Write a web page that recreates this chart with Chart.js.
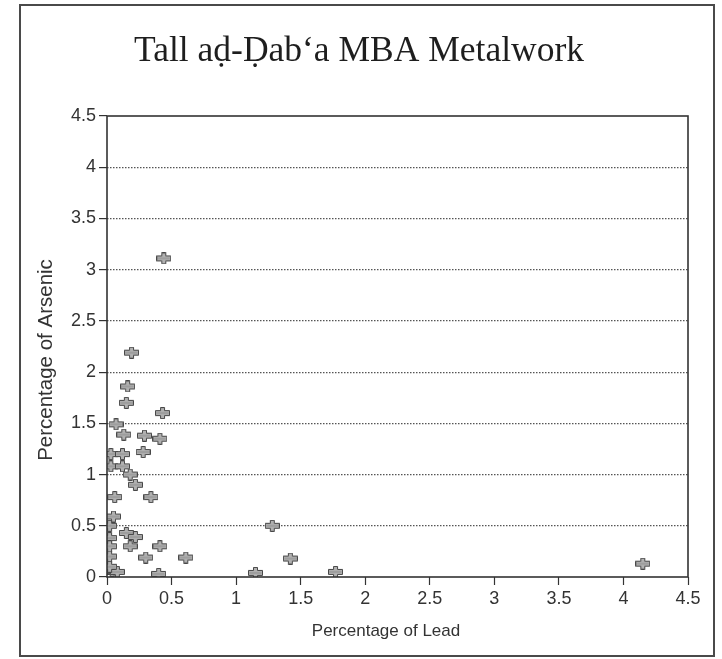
<!DOCTYPE html>
<html>
<head>
<meta charset="utf-8">
<script src="https://cdn.jsdelivr.net/npm/chart.js@4/dist/chart.umd.min.js"></script>
<style>
  html, body { margin: 0; padding: 0; background: #ffffff; }
  #wrap { width: 722px; height: 659px; }
</style>
</head>
<body>
<div id="wrap"><canvas id="c" width="722" height="659"></canvas></div>
<script>
// Lead (x) and arsenic (y) content of each analysed object, in percent
const leadPct = [
  0.44, 0.19, 0.16, 0.15, 0.43, 0.07, 0.13, 0.29, 0.41, 0.28,
  0.03, 0.12, 0.03, 0.12, 0.18, 0.22, 0.06, 0.34, 0.05, 0.02,
  1.28, 0.15, 0.22, 0.02, 0.02, 0.18, 0.41, 0.02, 0.30, 0.61,
  1.42, 0.40, 1.15, 1.77, 4.15, 0.01, 0.04, 0.08, 0.02
];
const arsenicPct = [
  3.11, 2.19, 1.86, 1.70, 1.60, 1.49, 1.39, 1.38, 1.35, 1.22,
  1.20, 1.20, 1.08, 1.08, 1.00, 0.90, 0.78, 0.78, 0.59, 0.50,
  0.50, 0.43, 0.39, 0.38, 0.30, 0.30, 0.30, 0.20, 0.19, 0.19,
  0.18, 0.03, 0.04, 0.05, 0.13, 0.08, 0.06, 0.05, 0.10
];
const axisTicks = [0, 0.5, 1, 1.5, 2, 2.5, 3, 3.5, 4, 4.5];

const chartTitle = 'Tall a\u1E0D-\u1E0Cab\u2018a MBA Metalwork';
const xTitle = 'Percentage of Lead';
const yTitle = 'Percentage of Arsenic';

const points = leadPct.map((x, i) => ({ x: x, y: arsenicPct[i] }));

// Gray plus-shaped marker with a dark outline
function makeMarker() {
  const m = document.createElement('canvas');
  m.width = 15; m.height = 12;
  const g = m.getContext('2d');
  g.beginPath();
  g.moveTo(5.5, 0.5); g.lineTo(9.5, 0.5); g.lineTo(9.5, 3.5);
  g.lineTo(14.5, 3.5); g.lineTo(14.5, 8.5); g.lineTo(9.5, 8.5);
  g.lineTo(9.5, 11.5); g.lineTo(5.5, 11.5); g.lineTo(5.5, 8.5);
  g.lineTo(0.5, 8.5); g.lineTo(0.5, 3.5); g.lineTo(5.5, 3.5);
  g.closePath();
  g.fillStyle = '#b0b0b0';
  g.fill();
  g.strokeStyle = '#474747';
  g.lineWidth = 1;
  g.stroke();
  g.beginPath();
  g.moveTo(1.5, 6); g.lineTo(13.5, 6);
  g.strokeStyle = '#8c8c8c';
  g.stroke();
  return m;
}
const marker = makeMarker();

// Solid box round the plot area, the titles and the page frame
const framePlugin = {
  id: 'frames',
  afterDatasetsDraw(chart) {
    const { ctx, chartArea: a } = chart;
    ctx.save();
    ctx.strokeStyle = '#333333';
    ctx.lineWidth = 1.6;
    ctx.strokeRect(a.left, a.top, a.right - a.left, a.bottom - a.top);
    ctx.restore();
  },
  afterDraw(chart) {
    const { ctx } = chart;
    ctx.save();
    ctx.textAlign = 'center';
    ctx.textBaseline = 'middle';
    ctx.fillStyle = '#1e1e1e';
    ctx.font = '35.5px "Liberation Serif", "Times New Roman", serif';
    ctx.fillText(chartTitle, 359, 52);
    ctx.fillStyle = '#333333';
    ctx.font = '17px "Liberation Sans", Arial, sans-serif';
    ctx.fillText(xTitle, 386, 631);
    ctx.translate(46, 360);
    ctx.rotate(-Math.PI / 2);
    ctx.font = '20.5px "Liberation Sans", Arial, sans-serif';
    ctx.fillText(yTitle, 0, 0);
    ctx.restore();

    ctx.save();
    ctx.strokeStyle = '#4a4a4a';
    ctx.lineWidth = 2;
    ctx.strokeRect(20, 5, 694, 651);
    ctx.restore();
  }
};

const tickFont = { family: 'Liberation Sans, Arial, sans-serif', size: 18 };

new Chart(document.getElementById('c'), {
  type: 'scatter',
  data: {
    datasets: [{
      data: points,
      pointStyle: marker,
      pointRadius: 6,
      pointHoverRadius: 6
    }]
  },
  options: {
    responsive: false,
    animation: false,
    devicePixelRatio: 1,
    layout: { padding: { left: 0, top: 116, right: 34, bottom: 0 } },
    plugins: {
      legend: { display: false },
      tooltip: { enabled: false },
      title: { display: false }
    },
    scales: {
      x: {
        type: 'linear',
        min: 0, max: 4.5,
        afterBuildTicks(scale) { scale.ticks = axisTicks.map(v => ({ value: v })); },
        afterFit(scale) { scale.height = 82; },
        ticks: { color: '#333333', font: tickFont, padding: 3, maxRotation: 0,
                 callback: v => String(v) },
        grid: { drawOnChartArea: false, drawTicks: true, tickLength: 8,
                tickColor: '#333333', tickWidth: 1.2 },
        border: { display: false }
      },
      y: {
        type: 'linear',
        min: 0, max: 4.5,
        afterBuildTicks(scale) { scale.ticks = axisTicks.map(v => ({ value: v })); },
        afterFit(scale) { scale.width = 107; },
        ticks: { color: '#333333', font: tickFont, padding: 3,
                 callback: v => String(v) },
        grid: {
          drawTicks: true, tickLength: 8, tickColor: '#333333', tickWidth: 1.2,
          lineWidth: 1.2,
          color: ctx => (ctx.tick && (ctx.tick.value === 0 || ctx.tick.value === 4.5)) ? 'rgba(0,0,0,0)' : '#555555'
        },
        border: { display: false, dash: [1.5, 1.5] }
      }
    }
  },
  plugins: [framePlugin]
});
</script>
</body>
</html>
